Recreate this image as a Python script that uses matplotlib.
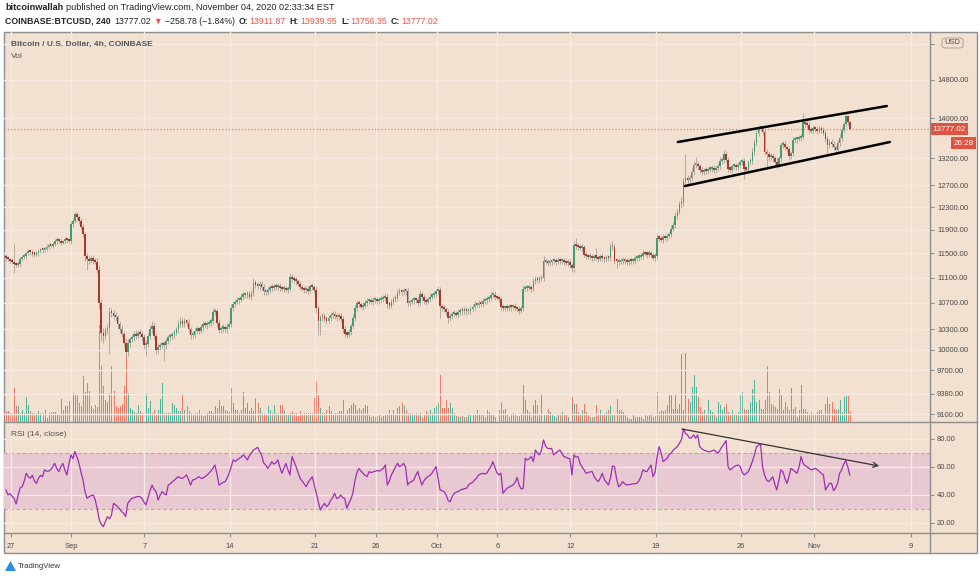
import numpy as np
import pandas as pd
import matplotlib
matplotlib.use('Agg')
import matplotlib.pyplot as plt
import matplotlib.dates as mdates
from matplotlib.ticker import FixedLocator, NullLocator, FuncFormatter
from matplotlib.patches import Rectangle, Polygon, FancyBboxPatch
from matplotlib.lines import Line2D
from matplotlib.transforms import blended_transform_factory

# ---- data (BTCUSD, Coinbase, 4h candles) ----
first_time = '2020-08-26 15:00'
first_open = 11450

closes = [
    11420, 11400, 11380, 11350, 11320, 11310, 11330, 11400, 11440, 11450,
    11500, 11530, 11520, 11490, 11480, 11500, 11540, 11560, 11550, 11570,
    11610, 11640, 11630, 11660, 11700, 11720, 11700, 11680, 11700, 11730,
    11720, 11700, 12000, 12060, 12170, 12120, 12050, 11950, 11830, 11460,
    11400, 11380, 11420, 11380, 11360, 11230, 10700, 10250, 10200, 10290,
    10320, 10560, 10540, 10500, 10480, 10380, 10300, 10230, 10100, 9960,
    10100, 10150, 10180, 10230, 10200, 10250, 10230, 10180, 10060, 10080,
    10200, 10300, 10350, 10200, 9990, 10040, 10060, 10080, 10060, 10120,
    10180, 10200, 10220, 10250, 10300, 10380, 10430, 10380, 10420, 10400,
    10300, 10210, 10220, 10280, 10300, 10280, 10330, 10380, 10360, 10380,
    10400, 10420, 10560, 10570, 10400, 10290, 10310, 10330, 10300, 10340,
    10380, 10620, 10680, 10720, 10740, 10750, 10800, 10820, 10830, 10840,
    10800, 10850, 11010, 10990, 10960, 11000, 10950, 10880, 10870, 10900,
    10950, 10940, 10960, 10950, 10970, 10930, 10920, 10930, 10910, 10920,
    11110, 11080, 11060, 11040, 11000, 10950, 10920, 10900, 10920, 10890,
    10960, 10950, 10900, 10620, 10430, 10480, 10500, 10450, 10430, 10470,
    10520, 10530, 10500, 10480, 10500, 10460, 10300, 10230, 10220, 10260,
    10350, 10470, 10620, 10700, 10680, 10640, 10660, 10700, 10730, 10740,
    10720, 10740, 10750, 10730, 10750, 10760, 10780, 10800, 10680, 10660,
    10720, 10760, 10780, 10860, 10880, 10870, 10890, 10880, 10700, 10720,
    10740, 10760, 10740, 10700, 10840, 10800, 10730, 10720, 10760, 10800,
    10820, 10840, 10880, 10900, 10650, 10620, 10600, 10560, 10470, 10500,
    10530, 10540, 10520, 10560, 10580, 10570, 10590, 10570, 10580, 10600,
    10640, 10680, 10670, 10700, 10690, 10730, 10740, 10760, 10780, 10820,
    10830, 10790, 10780, 10760, 10640, 10620, 10630, 10620, 10640, 10630,
    10650, 10620, 10600, 10580, 10620, 10920, 10930, 10940, 10950, 10920,
    11050, 11080, 11070, 11080, 11100, 11380, 11360, 11340, 11350, 11370,
    11380, 11360, 11390, 11370, 11380, 11350, 11340, 11360, 11300, 11250,
    11640, 11620, 11600, 11590, 11600, 11480, 11450, 11440, 11450, 11420,
    11440, 11430, 11410, 11450, 11420, 11400, 11430, 11420, 11600, 11610,
    11380, 11370, 11360, 11380, 11390, 11370, 11350, 11380, 11370, 11380,
    11420, 11430, 11440, 11460, 11500, 11490, 11480, 11510, 11470, 11430,
    11450, 11760, 11750, 11730, 11770, 11760, 11800, 11820, 11920, 11980,
    12150, 12220, 12350, 12400, 12780, 12830, 12790, 12830, 12950, 13080,
    13100, 13050, 12980, 12940, 12970, 12960, 12990, 13000, 13020, 12980,
    13010, 13060, 13150, 13170, 13280, 13180, 13000, 12990, 13050, 13060,
    13040, 13070, 13130, 13150, 13000, 12990, 13130, 13150, 13330, 13500,
    13700, 13790, 13800, 13720, 13330, 13280, 13220, 13250, 13200, 13140,
    13070, 13200, 13460, 13480, 13420, 13380, 13240, 13300, 13560, 13570,
    13580, 13600, 13620, 13920, 13880, 13850, 13760, 13740, 13790, 13770,
    13740, 13780, 13760, 13700, 13580, 13470, 13520, 13480, 13420, 13360,
    13500, 13600, 13760, 13870, 14040, 13911.87, 13777.02,
]

# wick lengths above / below the candle body, in USD
wick_up = [
    40, 30, 30, 40, 300, 40, 30, 40, 30, 40,
    30, 40, 30, 30, 40, 30, 40, 30, 40, 30,
    40, 30, 40, 30, 40, 50, 30, 40, 30, 40,
    30, 40, 60, 50, 40, 50, 40, 60, 50, 40,
    40, 60, 40, 50, 40, 60, 80, 60, 70, 50,
    60, 80, 60, 50, 60, 40, 50, 60, 50, 60,
    50, 40, 50, 40, 60, 40, 50, 40, 50, 60,
    50, 60, 80, 60, 40, 50, 40, 50, 40, 50,
    40, 50, 40, 50, 40, 60, 50, 40, 50, 40,
    50, 40, 50, 40, 50, 40, 50, 40, 50, 40,
    40, 50, 60, 50, 40, 50, 40, 50, 40, 50,
    40, 60, 50, 40, 50, 40, 60, 50, 40, 50,
    40, 50, 80, 50, 40, 50, 40, 50, 40, 50,
    40, 50, 40, 50, 40, 50, 40, 50, 40, 50,
    60, 50, 40, 50, 40, 50, 40, 50, 40, 50,
    40, 50, 40, 60, 50, 40, 50, 40, 50, 40,
    40, 50, 40, 50, 40, 50, 40, 50, 40, 50,
    50, 60, 50, 40, 50, 40, 50, 40, 50, 40,
    40, 50, 40, 50, 40, 50, 40, 50, 40, 50,
    40, 50, 40, 60, 50, 40, 50, 40, 50, 40,
    40, 50, 40, 50, 60, 50, 40, 50, 40, 50,
    40, 50, 40, 60, 50, 40, 50, 40, 50, 40,
    40, 50, 40, 50, 40, 50, 40, 50, 40, 50,
    40, 50, 40, 50, 40, 50, 40, 50, 40, 50,
    40, 50, 40, 50, 40, 50, 40, 50, 40, 50,
    40, 50, 40, 50, 40, 60, 50, 40, 50, 40,
    50, 40, 50, 40, 50, 80, 50, 40, 50, 40,
    50, 40, 50, 40, 50, 40, 50, 40, 50, 40,
    60, 120, 50, 40, 50, 40, 50, 40, 50, 40,
    50, 150, 50, 40, 50, 40, 50, 40, 80, 100,
    50, 40, 50, 40, 50, 40, 50, 40, 50, 40,
    50, 40, 50, 40, 50, 40, 50, 40, 50, 40,
    50, 60, 50, 40, 50, 40, 50, 40, 60, 50,
    60, 50, 60, 80, 60, 450, 60, 50, 70, 60,
    120, 60, 50, 60, 50, 60, 50, 60, 50, 60,
    50, 60, 70, 60, 90, 60, 50, 60, 50, 60,
    50, 60, 50, 60, 50, 60, 50, 60, 70, 80,
    60, 70, 60, 50, 60, 50, 60, 50, 60, 50,
    60, 50, 60, 50, 60, 50, 60, 50, 60, 50,
    60, 50, 60, 180, 60, 50, 60, 50, 60, 50,
    60, 50, 60, 50, 60, 50, 60, 50, 60, 50,
    60, 70, 60, 50, 40, 28, 27.68,
]
wick_dn = [
    40, 30, 40, 30, 140, 40, 30, 40, 30, 40,
    40, 30, 40, 30, 40, 30, 40, 30, 40, 30,
    30, 40, 30, 40, 30, 40, 30, 40, 30, 40,
    40, 30, 40, 50, 40, 60, 50, 40, 60, 80,
    170, 50, 40, 50, 40, 60, 90, 120, 100, 60,
    60, 390, 60, 50, 60, 80, 60, 50, 60, 80,
    50, 60, 40, 50, 40, 50, 40, 60, 50, 160,
    50, 40, 60, 50, 60, 40, 50, 40, 230, 50,
    40, 50, 40, 50, 40, 50, 40, 50, 40, 50,
    60, 50, 40, 50, 40, 50, 40, 50, 40, 50,
    40, 50, 40, 50, 60, 50, 40, 50, 40, 50,
    40, 50, 40, 50, 40, 50, 40, 50, 40, 50,
    40, 50, 40, 50, 40, 50, 40, 50, 40, 50,
    40, 50, 40, 50, 40, 50, 40, 50, 40, 50,
    40, 50, 40, 50, 40, 50, 40, 50, 40, 50,
    40, 50, 40, 80, 210, 210, 50, 40, 50, 40,
    40, 50, 40, 50, 40, 50, 60, 50, 50, 40,
    50, 40, 50, 40, 50, 40, 50, 40, 50, 40,
    40, 50, 40, 50, 40, 50, 40, 50, 60, 50,
    40, 50, 40, 50, 40, 50, 40, 50, 40, 50,
    40, 50, 40, 50, 40, 50, 40, 50, 40, 50,
    40, 50, 40, 50, 175, 50, 40, 50, 70, 50,
    40, 50, 40, 50, 40, 50, 40, 50, 40, 50,
    40, 50, 40, 50, 40, 50, 40, 50, 40, 50,
    40, 50, 40, 50, 60, 50, 40, 50, 40, 50,
    40, 50, 40, 50, 40, 50, 40, 50, 40, 50,
    40, 50, 40, 50, 40, 50, 40, 50, 40, 50,
    40, 50, 40, 50, 40, 50, 40, 50, 40, 60,
    50, 40, 50, 40, 50, 40, 50, 40, 50, 40,
    50, 40, 50, 40, 50, 40, 50, 40, 50, 40,
    50, 110, 50, 40, 50, 40, 50, 40, 50, 40,
    50, 40, 50, 40, 50, 40, 50, 40, 50, 40,
    50, 40, 50, 40, 50, 40, 50, 40, 50, 40,
    50, 60, 50, 60, 80, 60, 70, 60, 50, 60,
    60, 70, 60, 50, 60, 50, 60, 50, 60, 50,
    60, 50, 60, 50, 60, 50, 60, 50, 60, 50,
    60, 50, 60, 50, 180, 60, 50, 60, 50, 60,
    50, 60, 50, 60, 70, 250, 60, 50, 60, 70,
    60, 50, 60, 50, 60, 50, 60, 50, 60, 50,
    60, 50, 60, 50, 60, 50, 60, 50, 60, 50,
    60, 50, 60, 50, 60, 190, 60, 50, 60, 50,
    60, 50, 60, 50, 60, 50, 20.67,
]

# volume, hundreds of BTC per 4h bar
volume = [
    11, 11, 9, 8, 34, 16, 16, 9, 12, 9,
    25, 17, 11, 9, 9, 7, 11, 9, 9, 12,
    4, 9, 10, 10, 10, 7, 7, 23, 12, 16,
    16, 21, 22, 29, 28, 27, 19, 16, 46, 30,
    39, 31, 16, 13, 17, 15, 97, 56, 36, 22,
    20, 29, 56, 31, 16, 14, 16, 18, 36, 69,
    29, 14, 12, 10, 9, 17, 11, 9, 8, 29,
    14, 21, 9, 12, 8, 12, 23, 39, 9, 9,
    9, 9, 19, 17, 14, 11, 11, 27, 12, 16,
    11, 9, 7, 9, 9, 12, 7, 6, 7, 9,
    11, 11, 9, 16, 14, 22, 16, 16, 12, 11,
    10, 34, 19, 12, 12, 9, 12, 30, 14, 19,
    11, 14, 11, 24, 19, 14, 9, 9, 7, 16,
    12, 9, 17, 9, 8, 17, 17, 11, 8, 7,
    9, 11, 9, 9, 6, 11, 7, 9, 9, 9,
    9, 9, 24, 40, 27, 14, 9, 9, 12, 16,
    11, 7, 9, 9, 11, 11, 22, 7, 12, 14,
    17, 19, 17, 12, 14, 12, 14, 17, 16, 7,
    5, 6, 5, 6, 7, 5, 6, 7, 7, 12,
    8, 12, 7, 14, 16, 19, 16, 12, 9, 9,
    7, 7, 9, 7, 9, 5, 7, 11, 9, 12,
    9, 14, 16, 19, 47, 14, 14, 22, 14, 19,
    14, 9, 6, 5, 5, 6, 5, 5, 7, 7,
    7, 8, 12, 7, 8, 8, 5, 12, 10, 8,
    7, 5, 5, 12, 20, 12, 13, 7, 5, 8,
    9, 8, 6, 6, 7, 37, 22, 12, 10, 5,
    17, 22, 17, 8, 27, 8, 8, 13, 10, 8,
    6, 5, 7, 7, 10, 8, 7, 5, 6, 25,
    18, 18, 10, 7, 12, 18, 10, 7, 5, 5,
    5, 17, 7, 12, 7, 7, 10, 12, 16, 8,
    7, 23, 12, 12, 10, 7, 5, 3, 3, 7,
    5, 5, 5, 5, 3, 7, 6, 8, 7, 5,
    6, 30, 10, 12, 11, 12, 17, 27, 27, 13,
    28, 13, 18, 68, 12, 69, 23, 20, 35, 47,
    35, 25, 15, 10, 12, 7, 22, 12, 10, 7,
    5, 20, 17, 12, 15, 18, 10, 7, 12, 8,
    7, 10, 27, 30, 13, 12, 12, 20, 33, 42,
    20, 22, 13, 13, 22, 56, 30, 18, 17, 15,
    13, 33, 28, 12, 20, 15, 12, 34, 13, 15,
    5, 12, 37, 13, 13, 10, 7, 10, 7, 8,
    10, 12, 12, 8, 18, 25, 18, 20, 13, 12,
    13, 22, 10, 25, 26, 26, 10,
]

rsi = [
    43.6, 40, 41, 39, 37.6, 33.6, 40, 45, 46, 50,
    55.5, 53, 52, 54, 50, 48.3, 52, 54, 53, 57.9,
    57, 57, 58, 60, 62.6, 59, 56.7, 60, 62.6, 58,
    54.3, 62, 68.6, 66, 71, 67, 62.6, 56, 50.7, 42,
    37.6, 38.8, 39.5, 40, 36.4, 30, 22.1, 19, 17.4, 21,
    24.5, 23, 25.7, 34, 33, 31.7, 30, 28.1, 27, 24.5,
    34, 36, 37.6, 38, 38.5, 39, 38.8, 37.6, 35, 32.9,
    38, 43, 47.1, 44, 42.4, 36.4, 40, 42.4, 41, 40,
    47.1, 48, 49.5, 50.5, 52, 53.1, 52, 51.9, 53, 54.3,
    51, 47.1, 50.7, 51, 52, 53.1, 52, 51.9, 53, 54,
    55.5, 57, 59, 61.4, 55, 47.1, 48, 49, 49.5, 52,
    55.5, 60, 65, 64, 65, 66.2, 67, 68.6, 67, 65,
    68, 70, 72.1, 73, 74, 71, 68.6, 63, 61.4, 59,
    61, 63.8, 62, 63, 65, 60, 55.5, 59, 62.6, 58,
    54.3, 67.4, 64, 60.2, 56, 51.9, 50, 48, 45.9, 49,
    51, 53.1, 47, 41.2, 35, 29.3, 32, 34, 31.7, 33,
    36, 38, 41.2, 37.6, 38, 40, 38, 37.6, 30.5, 34,
    37, 41.2, 50, 56, 59, 57, 55.5, 54, 53.1, 56.7,
    56, 56.5, 57, 57.5, 57, 57.9, 59, 61.4, 47.1, 50,
    54.3, 57, 60, 62.6, 60.2, 61, 62.6, 60, 47.1, 49,
    49.5, 50.7, 54, 56.7, 52, 47.1, 50, 51.9, 53, 54,
    55.5, 58, 60.2, 52, 43.6, 43, 42.4, 40, 36, 35.2,
    39, 41.2, 42, 42.5, 43.6, 44, 44.5, 44.8, 47, 48.3,
    49, 50.7, 52, 54.3, 55, 55.5, 55, 55.5, 58, 60,
    63.8, 60, 56, 54.3, 55.5, 41.2, 43, 44.8, 45.5, 46.5,
    47.1, 49, 52.5, 47, 44.3, 44.8, 66.2, 65, 66, 67.4,
    63.8, 72.1, 70, 68.6, 72, 79.3, 75, 73.3, 73, 73.3,
    68.6, 70, 71, 72.1, 70, 67.4, 67, 66.2, 66, 54.3,
    68.6, 67, 67.4, 62.6, 60, 58, 55.5, 56, 56.5, 56.7,
    53, 51, 49.5, 52, 55.5, 51, 49, 47.1, 52, 60.7,
    60.2, 52, 45.9, 47, 49.5, 48, 47.1, 47.5, 47.5, 48,
    48, 48.3, 50, 53, 57.9, 57, 56.7, 59, 61.4, 53.1,
    56, 67.4, 74.5, 70, 63.8, 65, 66.2, 69, 70, 72.1,
    73.3, 74.5, 77, 79.3, 87.1, 84, 82.9, 80.5, 81, 82.9,
    80.5, 82.9, 74.5, 73, 72.1, 71.5, 71, 70.9, 71.5, 72.1,
    71, 69.8, 72, 74.5, 76.5, 78.8, 60.2, 57.9, 59, 60.2,
    61, 61.4, 60.2, 56, 54.3, 55.5, 56.7, 60.2, 64, 68.6,
    74.5, 75.5, 76.4, 60.2, 54, 50.7, 49.5, 51, 53.1, 48,
    43.6, 50, 57.9, 56.7, 52, 48.3, 53, 59, 57.9, 56.7,
    55.5, 60, 67.4, 62.6, 61, 60, 59, 57.9, 58.5, 59,
    58, 56.7, 55.5, 54.3, 43.6, 46, 48.3, 48.3, 43.1, 45,
    48.3, 55.5, 58, 62, 64.5, 60.2, 54.3,
]

price_ticks = [9100, 9380, 9700, 10000, 10300, 10700, 11100, 11500,
               11900, 12300, 12700, 13200, 14000, 14800, 15600]
rsi_ticks = [20, 40, 60, 80]
date_ticks = ['2020-08-27', '2020-09-01', '2020-09-07', '2020-09-14',
              '2020-09-21', '2020-09-26', '2020-10-01', '2020-10-06',
              '2020-10-12', '2020-10-19', '2020-10-26', '2020-11-01',
              '2020-11-09']
date_labels = ['27', 'Sep', '7', '14', '21', '26', 'Oct', '6', '12', '19',
               '26', 'Nov', '9']

# drawings on the chart (rising channel, RSI divergence arrow)
channel_top = (['2020-10-20 20:00', '2020-11-07 00:00'], [13520, 14246])
channel_bottom = (['2020-10-21 10:00', '2020-11-07 06:00'], [12683, 13520])
rsi_arrow = (['2020-10-21 04:00', '2020-11-06 09:00'], [87.1, 60.7])

last_price = 13777.02
countdown = '26:28'

# ---- style ----
bg = '#f2e0d0'
grid_c = '#f6ebe3'
frame_c = '#8e8e8e'
txt_c = '#4a4a4a'
up_c, dn_c = '#449a72', '#a8382b'
wick_c = '#a39a93'
vup_c, vdn_c = '#52b398', '#ee7966'
red_txt = '#e9564b'
fam = ['Liberation Sans', 'DejaVu Sans']
plt.rcParams['font.family'] = fam

W, H = 980, 580


def box(x0, y0, x1, y1):
    return [x0 / W, 1 - y1 / H, (x1 - x0) / W, (y1 - y0) / H]


fig = plt.figure(figsize=(W / 100, H / 100), dpi=100, facecolor='white')

# chart background + frame
fig.patches.append(Rectangle((4 / W, 1 - 553 / H), 973 / W, 521 / H,
                             transform=fig.transFigure, facecolor=bg,
                             edgecolor=frame_c, lw=1, zorder=-5))
for (x0, y0, x1, y1) in [(4, 422, 977, 422), (4, 533, 977, 533), (930, 32, 930, 553)]:
    fig.lines.append(Line2D([x0 / W, x1 / W], [1 - y0 / H, 1 - y1 / H],
                            transform=fig.transFigure, color=frame_c, lw=1, zorder=5))

# candle data
times = pd.date_range(first_time, periods=len(closes), freq='4h')
x = mdates.date2num(times.to_pydatetime())
c = np.array(closes, float)
o = np.concatenate([[first_open], c[:-1]])
hi = np.maximum(o, c) + np.array(wick_up, float)
lo = np.minimum(o, c) - np.array(wick_dn, float)
up = c >= o
body_bot = np.minimum(o, c)
body_h = np.maximum(np.abs(c - o), body_bot * 0.003)

x0 = mdates.date2num(pd.Timestamp('2020-08-27').to_pydatetime())
xlim = (x0 - 0.54, x0 + 75.55)
tick_x = mdates.date2num(pd.to_datetime(date_ticks).to_pydatetime())

# volume pane (under the price candles)
axv = fig.add_axes(box(4, 32, 930, 422))
axv.set_facecolor(bg)
axv.vlines(x, 0, volume, colors=np.where(up, vup_c, vdn_c), lw=0.5,
           antialiased=False, zorder=2)
axv.set_ylim(0, max(volume) / 0.249)
axv.set_xlim(xlim)
axv.axis('off')

# price pane
ax = fig.add_axes(box(4, 32, 930, 422), sharex=axv)
ax.patch.set_alpha(0)
ax.set_yscale('log')
ax.set_ylim(9000, 15864)
ax.yaxis.set_major_locator(FixedLocator(price_ticks))
ax.yaxis.set_minor_locator(NullLocator())
# the top label sits under the USD badge, as in the screenshot
ax.yaxis.set_major_formatter(FuncFormatter(lambda v, p: '' if v > 15000 else '%.2f' % v))
ax.yaxis.tick_right()
ax.tick_params(axis='y', length=3, width=0.8, color=frame_c, pad=2,
               labelsize=5.4, labelcolor=txt_c)
ax.tick_params(axis='x', length=0, labelbottom=False)
ax.set_xticks(tick_x)
ax.grid(True, color=grid_c, lw=1, zorder=0)
for s in ax.spines.values():
    s.set_visible(False)

ax.vlines(x, lo, hi, color=wick_c, lw=0.55, zorder=3)
ax.bar(x, body_h, bottom=body_bot, width=0.14,
       color=np.where(up, up_c, dn_c), linewidth=0, zorder=4)
ax.plot(pd.to_datetime(channel_top[0]), channel_top[1], color='black', lw=1.8,
        solid_capstyle='round', zorder=6)
ax.plot(pd.to_datetime(channel_bottom[0]), channel_bottom[1], color='black', lw=1.8,
        solid_capstyle='round', zorder=6)
ax.axhline(last_price, color='#e8836f', lw=0.9, ls=(0, (1, 1.6)), zorder=2)
ax.set_xlim(xlim)

trans = blended_transform_factory(ax.transAxes, ax.transData)
ax.text(1.003, last_price, '%.2f' % last_price, transform=trans, fontsize=5.8,
        color='white', va='center', ha='left', clip_on=False, zorder=10,
        bbox=dict(boxstyle='square,pad=0.3', fc='#df5340', ec='none'))
ax.annotate(countdown, xy=(1.0, last_price), xycoords=trans,
            xytext=(44, -14), textcoords='offset pixels', fontsize=5.8,
            color='white', va='center', ha='right', annotation_clip=False, zorder=10,
            bbox=dict(boxstyle='square,pad=0.3', fc='#df5340', ec='none'))

# USD badge at the top of the price scale
fig.patches.append(FancyBboxPatch((942 / W, 1 - 48 / H), 21 / W, 10 / H,
                                  boxstyle='round,pad=0,rounding_size=0.004',
                                  transform=fig.transFigure, facecolor=bg,
                                  edgecolor='#b9aaa0', lw=0.8, zorder=20))
fig.text(952.5 / W, 1 - 43 / H, 'USD', fontsize=5.4, color=txt_c,
         ha='center', va='center', zorder=21)

# RSI pane
axr = fig.add_axes(box(4, 422, 930, 533), sharex=axv)
axr.patch.set_alpha(0)
axr.set_ylim(12.86, 92.1)
axr.axhspan(30, 70, color='#e8c8d1', lw=0, zorder=0)
axr.grid(True, color=grid_c, lw=1, zorder=0.5)
for lvl in (30, 70):
    axr.axhline(lvl, color='#b8a8a8', lw=0.8, ls=(0, (3, 2.5)), zorder=1)
axr.plot(x, rsi, color='#9c2fb3', lw=0.9, zorder=3)
axr.annotate('', xy=(pd.to_datetime(rsi_arrow[0][1]), rsi_arrow[1][1]),
             xytext=(pd.to_datetime(rsi_arrow[0][0]), rsi_arrow[1][0]),
             arrowprops=dict(arrowstyle='->', color='#333333', lw=0.9,
                             shrinkA=0, shrinkB=0, mutation_scale=9), zorder=4)
axr.set_yticks(rsi_ticks)
axr.yaxis.set_major_formatter(FuncFormatter(lambda v, p: '%.2f' % v))
axr.yaxis.tick_right()
axr.tick_params(axis='y', length=3, width=0.8, color=frame_c, pad=2,
                labelsize=5.4, labelcolor=txt_c)
axr.set_xticks(tick_x)
axr.set_xticklabels(date_labels)
axr.tick_params(axis='x', length=3, width=0.8, color=frame_c, pad=4,
                labelsize=5.4, labelcolor=txt_c)
for s in axr.spines.values():
    s.set_visible(False)
axr.set_xlim(xlim)

# pane captions
fig.text(11 / W, 1 - 44 / H, 'Bitcoin / U.S. Dollar, 4h, COINBASE', fontsize=6,
         color='#555555', fontweight='bold', va='center')
fig.text(11 / W, 1 - 56 / H, 'Vol', fontsize=6, color='#555555', va='center')
fig.text(11 / W, 1 - 435 / H, 'RSI (14, close)', fontsize=6, color='#555555', va='center')

# header lines, drawn piece by piece
renderer = fig.canvas.get_renderer()


def runs(xp, yp, parts, size):
    for text, color, weight, gap in parts:
        xp += gap
        t = fig.text(xp / W, 1 - yp / H, text, fontsize=size, color=color,
                     fontweight=weight, va='center', ha='left', family=fam)
        xp += t.get_window_extent(renderer).width


dark = '#222222'
runs(5, 8, [('bitcoinwallah', dark, 'bold', 0),
            ('published on TradingView.com, November 04, 2020 02:33:34 EST', dark, 'normal', 3)], 6.6)
runs(5, 21, [('COINBASE:BTCUSD, 240', dark, 'bold', 0),
             ('13777.02', dark, 'normal', 4),
             ('▼', red_txt, 'normal', 2),
             ('−258.78 (−1.84%)', dark, 'normal', 3),
             ('O:', dark, 'bold', 4), ('13911.87', red_txt, 'normal', 1),
             ('H:', dark, 'bold', 4), ('13939.55', red_txt, 'normal', 1),
             ('L:', dark, 'bold', 4), ('13756.35', red_txt, 'normal', 1),
             ('C:', dark, 'bold', 4), ('13777.02', red_txt, 'normal', 1)], 6.3)

# footer logo
fig.patches.append(Polygon([(5 / W, 1 - 571 / H), (10.5 / W, 1 - 561 / H),
                            (16 / W, 1 - 571 / H)], closed=True,
                           transform=fig.transFigure, facecolor='#2a8fe0', edgecolor='none'))
fig.text(18 / W, 1 - 566 / H, 'TradingView', fontsize=5.6, color='#333333', va='center')

fig.savefig('out.png', dpi=100, facecolor='white')
